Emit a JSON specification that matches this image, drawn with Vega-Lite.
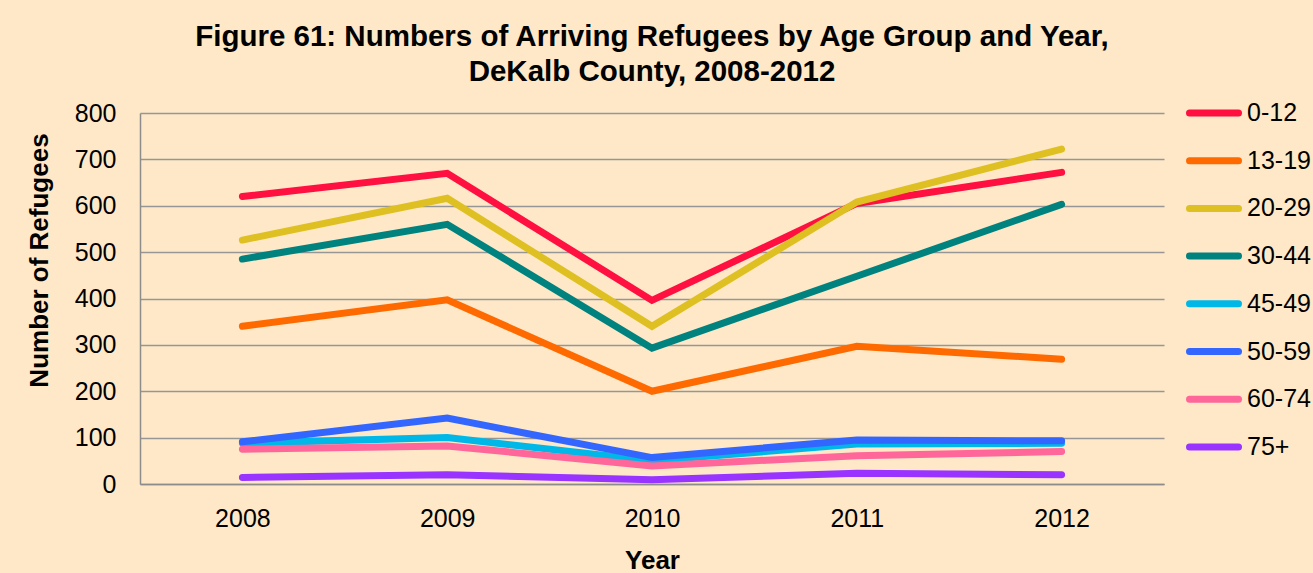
{
  "$schema": "https://vega.github.io/schema/vega-lite/v6.json",
  "autosize": {"type": "none"},
  "width": 1024,
  "height": 371,
  "padding": {"left": 140, "top": 113, "right": 149, "bottom": 89},
  "background": "#FEE8C7",
  "title": {
    "text": ["Figure 61: Numbers of Arriving Refugees by Age Group and Year,", "DeKalb County, 2008-2012"],
    "font": "Liberation Sans",
    "fontSize": 29.5,
    "fontWeight": "bold",
    "color": "#000000",
    "lineHeight": 35,
    "anchor": "middle",
    "offset": 6
  },
  "data": {
    "values": [
      {"year": "2008", "group": "0-12", "value": 620},
      {"year": "2009", "group": "0-12", "value": 670},
      {"year": "2010", "group": "0-12", "value": 396},
      {"year": "2011", "group": "0-12", "value": 605},
      {"year": "2012", "group": "0-12", "value": 672},
      {"year": "2008", "group": "13-19", "value": 340},
      {"year": "2009", "group": "13-19", "value": 397},
      {"year": "2010", "group": "13-19", "value": 200},
      {"year": "2011", "group": "13-19", "value": 297},
      {"year": "2012", "group": "13-19", "value": 269},
      {"year": "2008", "group": "20-29", "value": 526},
      {"year": "2009", "group": "20-29", "value": 616},
      {"year": "2010", "group": "20-29", "value": 340},
      {"year": "2011", "group": "20-29", "value": 608},
      {"year": "2012", "group": "20-29", "value": 722},
      {"year": "2008", "group": "30-44", "value": 485},
      {"year": "2009", "group": "30-44", "value": 560},
      {"year": "2010", "group": "30-44", "value": 293},
      {"year": "2011", "group": "30-44", "value": 448},
      {"year": "2012", "group": "30-44", "value": 603},
      {"year": "2008", "group": "45-49", "value": 88},
      {"year": "2009", "group": "45-49", "value": 100},
      {"year": "2010", "group": "45-49", "value": 50},
      {"year": "2011", "group": "45-49", "value": 86},
      {"year": "2012", "group": "45-49", "value": 88},
      {"year": "2008", "group": "50-59", "value": 91},
      {"year": "2009", "group": "50-59", "value": 142},
      {"year": "2010", "group": "50-59", "value": 57},
      {"year": "2011", "group": "50-59", "value": 95},
      {"year": "2012", "group": "50-59", "value": 93},
      {"year": "2008", "group": "60-74", "value": 75},
      {"year": "2009", "group": "60-74", "value": 82},
      {"year": "2010", "group": "60-74", "value": 39},
      {"year": "2011", "group": "60-74", "value": 61},
      {"year": "2012", "group": "60-74", "value": 70},
      {"year": "2008", "group": "75+", "value": 14},
      {"year": "2009", "group": "75+", "value": 20},
      {"year": "2010", "group": "75+", "value": 9},
      {"year": "2011", "group": "75+", "value": 23},
      {"year": "2012", "group": "75+", "value": 20}
    ]
  },
  "mark": {"type": "line", "strokeWidth": 7, "strokeCap": "round", "strokeJoin": "miter"},
  "encoding": {
    "x": {
      "field": "year",
      "type": "ordinal",
      "scale": {"type": "point", "padding": 0.5},
      "axis": {
        "title": "Year",
        "labelAngle": 0,
        "ticks": false,
        "labelPadding": 22,
        "titlePadding": 16,
        "grid": false
      }
    },
    "y": {
      "field": "value",
      "type": "quantitative",
      "scale": {"domain": [0, 800], "nice": false},
      "axis": {
        "title": "Number of Refugees",
        "values": [0, 100, 200, 300, 400, 500, 600, 700, 800],
        "ticks": false,
        "labelPadding": 24,
        "titlePadding": 22,
        "titleY": 147,
        "grid": true
      }
    },
    "color": {
      "field": "group",
      "type": "nominal",
      "scale": {
        "domain": ["0-12", "13-19", "20-29", "30-44", "45-49", "50-59", "60-74", "75+"],
        "range": ["#FF1040", "#FF6A00", "#DFC023", "#00827F", "#00B8E8", "#3366FF", "#FF6699", "#9933FF"]
      },
      "legend": {
        "title": null,
        "orient": "none",
        "legendX": 1046,
        "legendY": -20,
        "symbolType": "stroke",
        "symbolSize": 2401,
        "symbolStrokeWidth": 7,
        "clipHeight": 40,
        "rowPadding": 7.7,
        "labelFontSize": 25,
        "labelOffset": 5,
        "labelFont": "Liberation Sans",
        "labelColor": "#000000",
        "encode": {"symbols": {"update": {"strokeCap": {"value": "round"}}}}
      }
    }
  },
  "config": {
    "view": {"stroke": null},
    "axis": {
      "labelFont": "Liberation Sans",
      "labelFontSize": 25,
      "labelColor": "#000000",
      "titleFont": "Liberation Sans",
      "titleFontSize": 26,
      "titleFontWeight": "bold",
      "titleColor": "#000000",
      "domainColor": "#8C8C8C",
      "domainWidth": 1.5,
      "gridColor": "#969696",
      "gridWidth": 1.5
    }
  }
}
